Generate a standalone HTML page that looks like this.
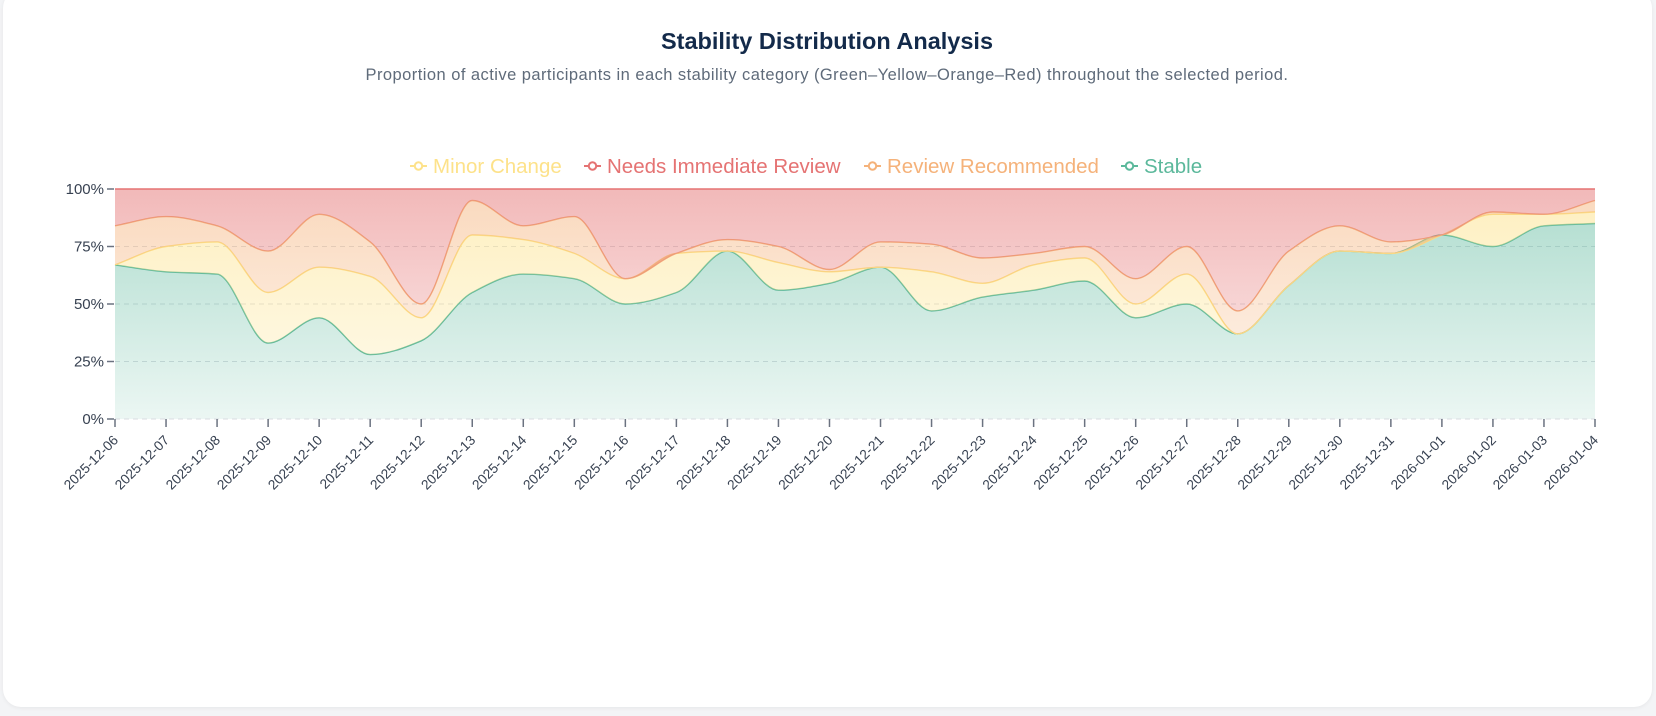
<!DOCTYPE html>
<html><head><meta charset="utf-8">
<style>
html,body{margin:0;padding:0;background:#f3f4f6;width:1656px;height:716px;overflow:hidden;font-family:"Liberation Sans",sans-serif;}
.card{position:absolute;left:3px;top:-10px;width:1649px;height:717px;background:#fff;border-radius:18px;box-shadow:0 1px 4px rgba(0,0,0,0.06);}
</style></head><body>
<div class="card"></div>
<svg id="chart" width="1656" height="716" style="position:absolute;left:0;top:0">
<defs>
<linearGradient id="gG" gradientUnits="userSpaceOnUse" x1="0" y1="189" x2="0" y2="419"><stop offset="0" stop-color="#5bb89b" stop-opacity="0.5"/><stop offset="1" stop-color="#5bb89b" stop-opacity="0.12"/></linearGradient>
<linearGradient id="gY" gradientUnits="userSpaceOnUse" x1="0" y1="189" x2="0" y2="419"><stop offset="0" stop-color="#fde28a" stop-opacity="0.55"/><stop offset="1" stop-color="#fde28a" stop-opacity="0.15"/></linearGradient>
<linearGradient id="gO" gradientUnits="userSpaceOnUse" x1="0" y1="189" x2="0" y2="419"><stop offset="0" stop-color="#f5b27a" stop-opacity="0.5"/><stop offset="1" stop-color="#f5b27a" stop-opacity="0.12"/></linearGradient>
<linearGradient id="gR" gradientUnits="userSpaceOnUse" x1="0" y1="189" x2="0" y2="419"><stop offset="0" stop-color="#e57373" stop-opacity="0.5"/><stop offset="1" stop-color="#e57373" stop-opacity="0.12"/></linearGradient>
</defs>
<text x="827" y="49" text-anchor="middle" font-size="23.5" font-weight="bold" fill="#132a4a">Stability Distribution Analysis</text>
<text x="827" y="80" text-anchor="middle" font-size="16.5" letter-spacing="0.45" fill="#5f6b7a">Proportion of active participants in each stability category (Green–Yellow–Orange–Red) throughout the selected period.</text>
<g id="legend"></g>
<g id="grid"></g>
<g id="areas"></g>
<g id="axes"></g>
</svg>
<script>
const categories=["2025-12-06","2025-12-07","2025-12-08","2025-12-09","2025-12-10","2025-12-11","2025-12-12","2025-12-13","2025-12-14","2025-12-15","2025-12-16","2025-12-17","2025-12-18","2025-12-19","2025-12-20","2025-12-21","2025-12-22","2025-12-23","2025-12-24","2025-12-25","2025-12-26","2025-12-27","2025-12-28","2025-12-29","2025-12-30","2025-12-31","2026-01-01","2026-01-02","2026-01-03","2026-01-04"];
const stable=[67,64,63,33,44,28,34,55,63,61,50,55,73,56,59,66,47,53,56,60,44,50,37,58,73,72,80,75,84,85];
const minorChange=[0,11,14,22,22,34,10,25,15,11,11,17,0,12,5,0,17,6,11,10,6,13,0,0,0,0,0,14,5,5];
const reviewRecommended=[17,13,7,18,23,15,6,15,6,16,0,0,5,7,1,11,12,11,5,5,11,12,10,15,11,5,0,1,0,5];
const needsImmediate=[16,12,16,27,11,23,50,5,16,12,39,28,22,25,35,23,24,30,28,25,39,25,53,27,16,23,20,10,11,5];
const yTicks=[0,25,50,75,100];
const yTickLabels=["0%","25%","50%","75%","100%"];
const legendNames=["Minor Change","Needs Immediate Review","Review Recommended","Stable"];

const NS="http://www.w3.org/2000/svg";
const X0=115,X1=1595,Y0=419,Y1=189;
const xs=i=>X0+(X1-X0)*i/(categories.length-1);
const ys=v=>Y0-(Y0-Y1)*v/100;
function mk(t,a,p){const e=document.createElementNS(NS,t);for(const k in a)e.setAttribute(k,a[k]);p.appendChild(e);return e;}
function mono(pts){const n=pts.length;const d=[],m=[];for(let i=0;i<n-1;i++){d.push((pts[i+1][1]-pts[i][1])/(pts[i+1][0]-pts[i][0]));}
for(let i=0;i<n;i++){if(i==0)m.push(d[0]);else if(i==n-1)m.push(d[n-2]);else{if(d[i-1]*d[i]<=0)m.push(0);else{m.push(2/(1/d[i-1]+1/d[i]));}}}
let s="";for(let i=0;i<n-1;i++){const h=(pts[i+1][0]-pts[i][0])/3;s+=` C${pts[i][0]+h},${pts[i][1]+m[i]*h} ${pts[i+1][0]-h},${pts[i+1][1]-m[i+1]*h} ${pts[i+1][0]},${pts[i+1][1]}`;}return s;}
const grid=document.getElementById('grid');
yTicks.forEach((t,i)=>{
 if(t>0&&t<100){const l=mk('line',{x1:X0,x2:X1,y1:ys(t),y2:ys(t),stroke:'#d9dce1','stroke-dasharray':'5,4'},grid);
 
 }
});
const series=[[stable,'#5bb89b','url(#gG)','stable-area'],[minorChange,'#fcdc84','url(#gY)','minor-change-area'],[reviewRecommended,'#f2a979','url(#gO)','review-recommended-area'],[needsImmediate,'#e57373','url(#gR)','needs-immediate-area']];
const areas=document.getElementById('areas');
let base=categories.map(()=>0);
series.forEach(([vals,col,fill,name])=>{
 const top=base.map((b,i)=>b+vals[i]);
 const tp=top.map((v,i)=>[xs(i),ys(v)]);
 const bp=base.map((v,i)=>[xs(i),ys(v)]).reverse();
 const d=`M${tp[0][0]},${tp[0][1]}`+mono(tp)+` L${bp[0][0]},${bp[0][1]}`+mono(bp)+'Z';
 const a=mk('path',{d:d,fill:fill,stroke:'none'},areas);
 
 
 const ln=mk('path',{d:`M${tp[0][0]},${tp[0][1]}`+mono(tp),fill:'none',stroke:col,'stroke-width':1.4},areas);
 
 
 base=top;
});
const axes=document.getElementById('axes');
const yl=mk('line',{x1:X0,x2:X1,y1:Y0,y2:Y0,stroke:'#d9dce1','stroke-dasharray':'5,4'},axes);


yTicks.forEach((t,i)=>{
 const tk=mk('line',{x1:X0-8,x2:X0-1,y1:ys(t),y2:ys(t),stroke:'#6b7280','stroke-width':1.5},axes);
 
 
 const tx=mk('text',{x:X0-11,y:ys(t)+5,'text-anchor':'end','font-size':15,fill:'#374151'},axes);
 tx.textContent=yTickLabels[i];
 
 
});
categories.forEach((c,i)=>{
 const x=xs(i);
 const tk=mk('line',{x1:x,x2:x,y1:Y0,y2:Y0+8,stroke:'#6b7280','stroke-width':1.5},axes);
 
 
 const tx=mk('text',{x:x+4,y:Y0+22,'text-anchor':'end','font-size':13.7,fill:'#374151',transform:`rotate(-45 ${x+4} ${Y0+22})`},axes);
 tx.textContent=c;
 
 
});
const legend=document.getElementById('legend');
const lcols=['#fde28a','#e57373','#f5b27a','#5bb89b'];
const lx=[410,584,864,1121];
legendNames.forEach((n,i)=>{
 const g=mk('g',{},legend);
 
 
 mk('line',{x1:lx[i],x2:lx[i]+17,y1:166,y2:166,stroke:lcols[i],'stroke-width':2},g);
 mk('circle',{cx:lx[i]+8.5,cy:166,r:3.7,fill:'#fff',stroke:lcols[i],'stroke-width':2},g);
 const t=mk('text',{x:lx[i]+23,y:173,'font-size':20.5,fill:lcols[i]},g);
 t.textContent=n;
});
</script>
</body></html>
